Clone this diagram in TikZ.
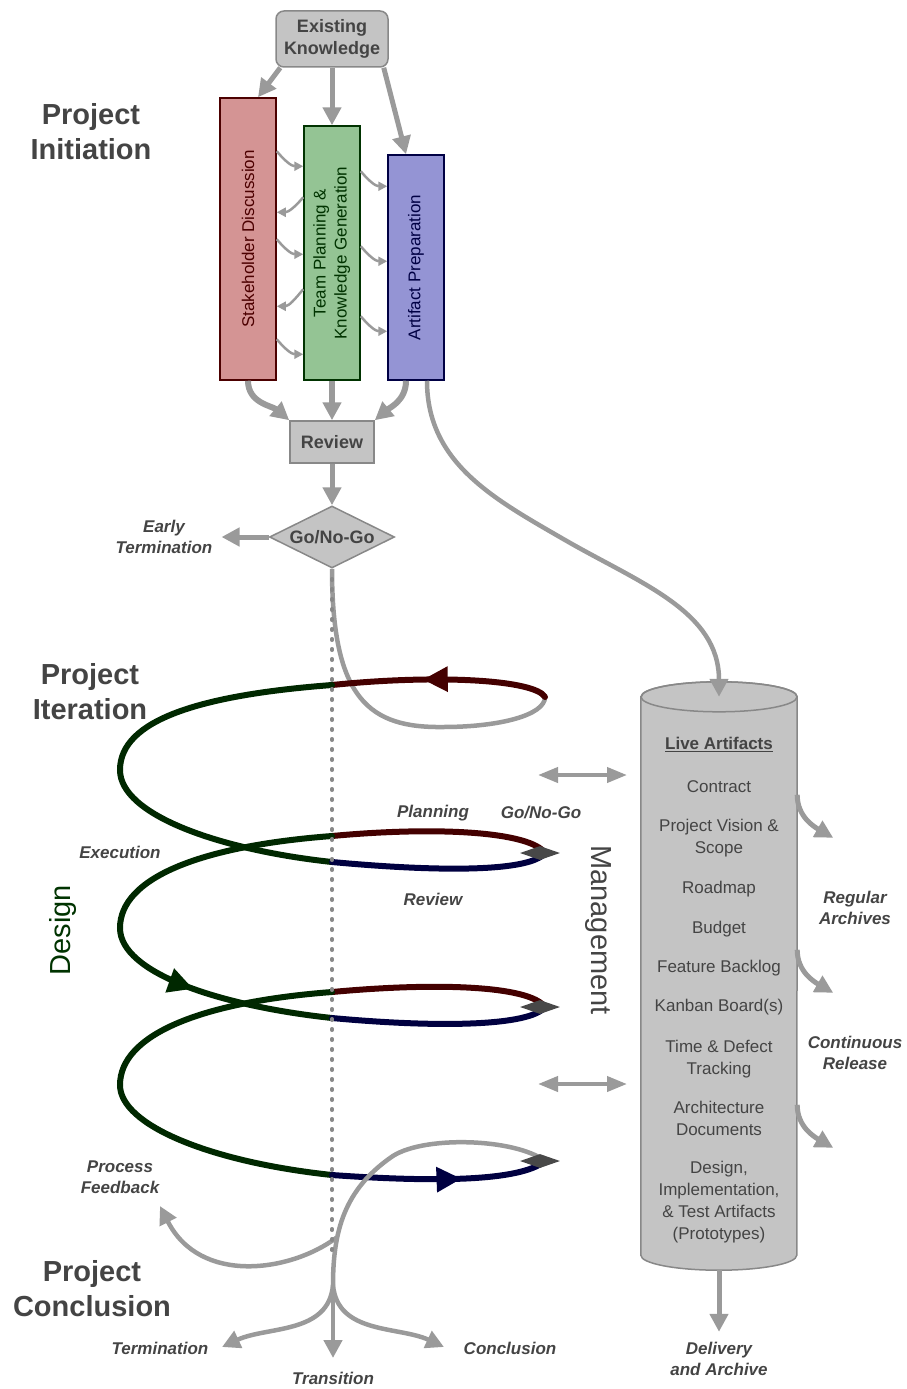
\documentclass[tikz,border=0pt]{standalone}
\usepackage{fontspec}
\setmainfont{Liberation Sans}
\usepackage{graphicx}
\usetikzlibrary{arrows.meta, positioning, shapes.geometric, decorations.markings}

\definecolor{txtgray}{HTML}{444444}
\definecolor{flowgray}{HTML}{9A9A9A}
\definecolor{boxgray}{HTML}{C4C4C4}
\definecolor{boxedge}{HTML}{888888}
\definecolor{stakefill}{HTML}{D49494}
\definecolor{stakeedge}{HTML}{4C0000}
\definecolor{teamfill}{HTML}{94C494}
\definecolor{teamedge}{HTML}{003300}
\definecolor{artfill}{HTML}{9494D4}
\definecolor{artedge}{HTML}{000044}
\definecolor{loopred}{HTML}{440000}
\definecolor{loopgreen}{HTML}{002800}
\definecolor{loopblue}{HTML}{000040}
\definecolor{tipgray}{HTML}{484848}

\newcommand{\phasefont}{\fontsize{29}{35}\selectfont\bfseries}
\newcommand{\notefont}{\fontsize{17}{21.5}\selectfont\bfseries\itshape}
\newcommand{\itemfont}{\fontsize{17}{22}\selectfont}

\begin{document}
\begin{tikzpicture}[x=1pt, y=-1pt,
  every node/.style={text=txtgray, inner sep=0pt},
  phase/.style={font=\phasefont, align=center},
  note/.style={font=\notefont, align=center},
  box/.style={draw=boxedge, fill=boxgray, line width=1.5, font=\fontsize{18}{22}\selectfont\bfseries, align=center},
  column/.style={line width=1.5, minimum width=56, font=\fontsize{17}{21}\selectfont},
  flow/.style={draw=flowgray, line width=5, -{Triangle[length=18pt,width=18pt]}},
  hop/.style={draw=flowgray, line width=2.5, -{Triangle[length=9pt,width=9pt]}},
  trail/.style={draw=flowgray, line width=4.5},
  dbl/.style={draw=flowgray, line width=4, {Triangle[length=20pt,width=15pt]}-{Triangle[length=20pt,width=15pt]}},
  spiral/.style={line width=6, line cap=round},
  midarrow/.style={postaction={decorate}, decoration={markings,
      mark=at position #1 with {\arrow{Triangle[length=25pt,width=24pt]}}}},
  kite/.style={diamond, fill=tipgray, minimum width=40, minimum height=14, aspect=3},
]
\useasboundingbox (0,0) rectangle (907,1389);

% phase titles
\node (initiation) [phase] at (91,132) {Project\\Initiation};
\node (iteration) [phase] at (90,692) {Project\\Iteration};
\node (conclusion) [phase] at (92,1289) {Project\\Conclusion};

% initiation boxes
\node (know) [box, rounded corners=8pt, minimum width=112, minimum height=56] at (332,39) {Existing\\Knowledge};
\node (stake) [column, draw=stakeedge, fill=stakefill, text=stakeedge, minimum height=282] at (248,239)
  {\rotatebox{90}{Stakeholder Discussion}};
\node (team) [column, draw=teamedge, fill=teamfill, text=teamedge, minimum height=254] at (332,253)
  {\rotatebox{90}{\begin{tabular}{@{}c@{}}Team Planning \&\\Knowledge Generation\end{tabular}}};
\node (artif) [column, draw=artedge, fill=artfill, text=artedge, minimum height=225] at (416,267.5)
  {\rotatebox{90}{Artifact Preparation}};
\node (review) [box, minimum width=84, minimum height=42] at (332,442) {Review};
\node (gonogo) [box, diamond, aspect=2, minimum width=125, minimum height=62] at (332,537) {Go/No-Go};
\node (early) [note] at (164,537) {Early\\Termination};

\draw[flow] ([xshift=5]know.south west) -- ([xshift=10]stake.north);
\draw[flow] (know.south) -- (team.north);
\draw[flow] ([xshift=-5]know.south east) -- ([xshift=-10]artif.north);

% hand-offs between the three columns
\foreach \s/\t in {54/41, 142/129, 242/229}
  \draw[hop] ([yshift=-\s]stake.north east) to[out=-50, in=180] ([yshift=-\t]team.north west);
\foreach \s/\t in {72/115, 164/209}
  \draw[hop] ([yshift=-\s]team.north west) to[out=-130, in=0] ([yshift=-\t]stake.north east);
\foreach \s/\t in {46/32, 121/107, 191/177}
  \draw[hop] ([yshift=-\s]team.north east) to[out=-50, in=180] ([yshift=-\t]artif.north west);

\draw[flow, line width=6] (stake.south) to[out=-90, in=140] (review.north west);
\draw[flow, line width=6] (team.south) -- (review.north);
\draw[flow, line width=6] ([xshift=-10]artif.south) to[out=-90, in=40] (review.north east);
\draw[flow] (review) -- (gonogo);
\draw[flow] (gonogo.west) -- ([xshift=9]early.east);

% live artifacts store
\node (store) [minimum width=156, minimum height=558] at (719,976) {};
\filldraw[fill=boxgray, draw=boxedge, line width=1.5]
  (store.north west) -- (store.south west)
  arc[start angle=180, end angle=0, x radius=78, y radius=15]
  -- (store.north east)
  arc[start angle=0, end angle=-180, x radius=78, y radius=15] -- cycle;
\draw[boxedge, line width=1.5] (store.north) ellipse[x radius=78, y radius=15];
\node (artlist) [font=\itemfont, align=center, anchor=north] at (719,737)
  {\textbf{\underline{Live Artifacts}}\\[21pt]
   Contract\\[17pt]
   Project Vision \&\\Scope\\[18pt]
   Roadmap\\[18pt]
   Budget\\[17pt]
   Feature Backlog\\[17pt]
   Kanban Board(s)\\[19pt]
   Time \& Defect\\Tracking\\[17pt]
   Architecture\\Documents\\[16pt]
   Design,\\Implementation,\\\& Test Artifacts\\(Prototypes)};

\coordinate (bend) at (565,540);
\draw[flow, line width=4.5] ([xshift=11]artif.south) to[out=-90, in=150] (bend) to[out=-30, in=90] (store.north);

% archives and delivery
\foreach \i/\s in {1/98, 2/253, 3/408} {
  \coordinate (arch\i) at ([xshift=36, yshift=-\s-43]store.north east);
  \draw[flow] ([yshift=-\s]store.north east) to[out=-90, in=150] (arch\i);
}
\node (regular) [note] at (855,908) {Regular\\Archives};
\node (release) [note] at (855,1053) {Continuous\\Release};
\node (delivery) [note] at (719,1359) {Delivery\\and Archive};
\draw[flow] ([yshift=-15]store.south) -- ([yshift=10]delivery.north);

% management links
\coordinate (mg1a) at (538,775);
\coordinate (mg1b) at (627,775);
\coordinate (mg2a) at (538,1084);
\coordinate (mg2b) at (627,1084);
\draw[dbl] (mg1a) -- (mg1b);
\draw[dbl] (mg2a) -- (mg2b);
\node (mgmt) [rotate=-90, font=\fontsize{29}{35}\selectfont] at (598,930) {Management};
\node (design) [rotate=90, font=\fontsize{29}{35}\selectfont, text=teamedge] at (63,930) {Design};

% iteration spiral
\coordinate (tip1) at (545,697);
\coordinate (tip2) at (545,853);
\coordinate (tip3) at (545,1007);
\coordinate (tip4) at (545,1161);

\draw[trail] (gonogo.south) .. controls (332,700) and (370,728) .. (443,727)
  .. controls (500,727) and (545,715) .. (tip1);

\draw[spiral, loopred, midarrow=0.58] (tip1) .. controls (535,680) and (440,674) .. (332,685);
\draw[spiral, loopgreen] (332,685) .. controls (200,695) and (120,720) .. (120,770)
  .. controls (120,815) and (220,850) .. (332,862);
\draw[spiral, loopblue] (332,862) .. controls (440,872) and (530,872) .. (tip2);
\draw[spiral, loopred] (tip2) .. controls (530,832) and (440,826) .. (332,836);
\draw[spiral, loopgreen, midarrow=0.71] (332,836) .. controls (200,846) and (120,878) .. (120,928)
  .. controls (120,973) and (220,1006) .. (332,1018);
\draw[spiral, loopblue] (332,1018) .. controls (440,1028) and (530,1026) .. (tip3);
\draw[spiral, loopred] (tip3) .. controls (530,986) and (440,982) .. (332,992);
\draw[spiral, loopgreen] (332,992) .. controls (200,1002) and (120,1035) .. (120,1085)
  .. controls (120,1125) and (210,1162) .. (332,1175);
\draw[spiral, loopblue, midarrow=0.6] (332,1175) .. controls (430,1182) and (520,1182) .. (tip4);

\node (kite2) [kite] at (540,853) {};
\node (kite3) [kite] at (540,1007) {};

% leaving the last iteration
\coordinate (split) at (333,1285);
\coordinate (fbstart) at (336,1238);
\coordinate (fbend) at (160,1206);
\draw[trail] (tip4) .. controls (515,1138) and (420,1135) .. (390,1158)
  .. controls (345,1190) and (333,1230) .. (split);
\node (kite4) [kite] at (540,1161) {};
\draw[flow, line width=4.5] (fbstart) .. controls (290,1272) and (200,1285) .. (fbend);

\draw[boxedge, line width=3.5, line cap=round, dash pattern=on 1.5pt off 8.5pt] ([yshift=-10]gonogo.south) -- (332,1252);

\coordinate (termend) at (222,1347);
\coordinate (transend) at (333,1358);
\coordinate (conclend) at (444,1347);
\draw[flow, line width=4.5] (split) to[out=-95, in=25] (termend);
\draw[flow, line width=4.5] (split) -- (transend);
\draw[flow, line width=4.5] (split) to[out=-85, in=155] (conclend);

% spiral and exit labels
\node (planning) [note] at (433,813) {Planning};
\node (decide) [note] at (541,813) {Go/No-Go};
\node (lblreview) [note] at (433,899) {Review};
\node (execution) [note] at (120,852) {Execution};
\node (feedback) [note] at (120,1177) {Process\\Feedback};
\node (termination) [note] at (160,1348) {Termination};
\node (transition) [note] at (333,1378) {Transition};
\node (closing) [note] at (510,1348) {Conclusion};
\end{tikzpicture}
\end{document}
